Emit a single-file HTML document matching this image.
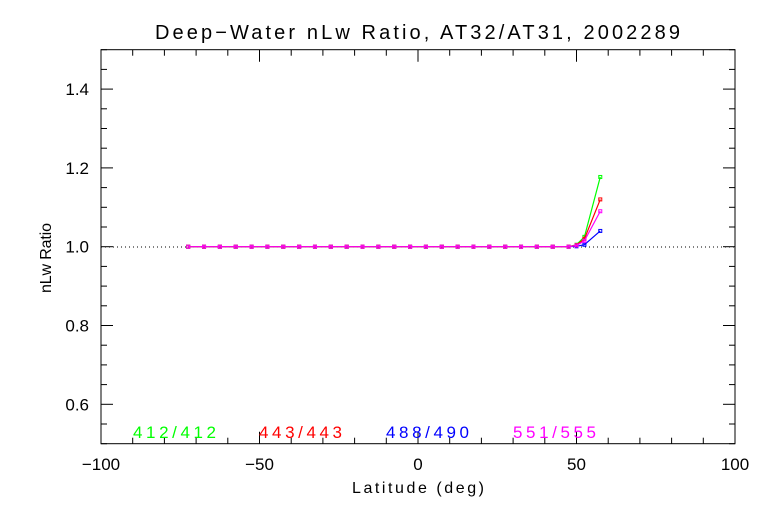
<!DOCTYPE html>
<html><head><meta charset="utf-8"><style>
body{margin:0;background:#fff}
svg text{font-family:"Liberation Sans",sans-serif}
</style></head><body>
<svg id="c" width="768" height="512" xmlns="http://www.w3.org/2000/svg">
<rect width="768" height="512" fill="#fff"/>
<text x="155" y="39" font-size="20" textLength="525" lengthAdjust="spacing">Deep−Water nLw Ratio, AT32/AT31, 2002289</text>
<rect x="101" y="49.7" width="634" height="394" fill="none" stroke="#000" stroke-width="1"/>
<g id="axes"></g>
<line x1="101" x2="735" y1="247" y2="247" stroke="#000" stroke-dasharray="1,3"/>
<g id="series"></g>
<text x="352" y="493" font-size="16" textLength="132" lengthAdjust="spacing">Latitude (deg)</text>
<text transform="translate(51,293) rotate(-90)" font-size="16" textLength="70" lengthAdjust="spacing">nLw Ratio</text>
<g font-size="17">
<text x="133" y="438" fill="#00ff00" textLength="83" lengthAdjust="spacing">412/412</text>
<text x="259" y="438" fill="#ff0000" textLength="83" lengthAdjust="spacing">443/443</text>
<text x="386" y="438" fill="#0000ff" textLength="83" lengthAdjust="spacing">488/490</text>
<text x="513" y="438" fill="#ff00ff" textLength="83" lengthAdjust="spacing">551/555</text>
</g>
</svg>
<script>
const xTicks=[-100,-50,0,50,100];
const yTicks=[0.6,0.8,1.0,1.2,1.4];
const lats=[-72.5,-67.5,-62.5,-57.5,-52.5,-47.5,-42.5,-37.5,-32.5,-27.5,-22.5,-17.5,-12.5,-7.5,-2.5,2.5,7.5,12.5,17.5,22.5,27.5,32.5,37.5,42.5,47.5,50,52.5,57.5];
const flat=new Array(25).fill(1.0);
const s412=flat.concat([1.005,1.025,1.177]);
const s443=flat.concat([1.004,1.02,1.12]);
const s488=flat.concat([1.001,1.005,1.04]);
const s551=flat.concat([1.003,1.015,1.09]);
const X=v=>101+(v+100)*3.17;
const Y=v=>443.7-(v-0.5)*394;
const NS="http://www.w3.org/2000/svg";
const ax=document.getElementById('axes');
function ln(x1,y1,x2,y2){const l=document.createElementNS(NS,'line');l.setAttribute('x1',x1);l.setAttribute('y1',y1);l.setAttribute('x2',x2);l.setAttribute('y2',y2);l.setAttribute('stroke','#000');


ax.appendChild(l);}
for(let v=-100;v<=100;v+=10){const x=X(v),L=(v%50===0)?12:6;ln(x,443.7,x,443.7-L);ln(x,49.7,x,49.7+L);}
for(let v=0.5;v<=1.501;v+=0.05){const y=Y(v),L=(Math.round(v*100)%20===0)?12:6;ln(101,y,101+L,y);ln(735,y,735-L,y);}
xTicks.forEach(v=>{const t=document.createElementNS(NS,'text');t.setAttribute('x',X(v));t.setAttribute('y',470);t.setAttribute('font-size','17');t.setAttribute('text-anchor','middle');t.textContent=(v<0?'−':'')+Math.abs(v);


ax.appendChild(t);});
yTicks.forEach(v=>{const t=document.createElementNS(NS,'text');t.setAttribute('x',89);t.setAttribute('y',Y(v)+6);t.setAttribute('font-size','17');t.setAttribute('text-anchor','end');t.textContent=v.toFixed(1);


ax.appendChild(t);});
const sg=document.getElementById('series');
[[s488,'#0000ff','488'],[s412,'#00ff00','412'],[s443,'#ff0000','443'],[s551,'#ff00ff','551']].forEach(([d,c,n])=>{
const p=document.createElementNS(NS,'polyline');
p.setAttribute('points',d.map((v,i)=>X(lats[i])+','+Y(v)).join(' '));
p.setAttribute('fill','none');p.setAttribute('stroke',c);p.setAttribute('stroke-width','1.2');


sg.appendChild(p);
d.forEach((v,i)=>{const m=document.createElementNS(NS,'rect');m.setAttribute('x',X(lats[i])-1.5);m.setAttribute('y',Y(v)-1.5);m.setAttribute('width',3);m.setAttribute('height',3);m.setAttribute('fill','none');m.setAttribute('stroke',c);


sg.appendChild(m);});
});
</script>
</body></html>
